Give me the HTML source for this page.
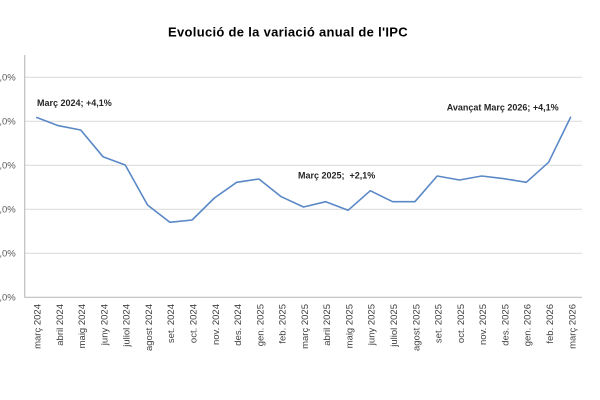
<!DOCTYPE html>
<html>
<head>
<meta charset="utf-8">
<style>
html,body{margin:0;padding:0;background:#fff;}
svg{display:block;}
text{font-family:"Liberation Sans",Arial,sans-serif;}
</style>
</head>
<body>
<svg width="600" height="400" viewBox="0 0 600 400" xmlns="http://www.w3.org/2000/svg">
<rect width="600" height="400" fill="#fff"/>
<text x="288" y="36.7" text-anchor="middle" font-size="13" font-weight="bold" letter-spacing="0.3" fill="#000">Evolució de la variació anual de l'IPC</text>

<!-- gridlines -->
<g stroke="#d9d9d9" stroke-width="1">
<line x1="25" y1="77.3" x2="582" y2="77.3"/>
<line x1="25" y1="121.3" x2="582" y2="121.3"/>
<line x1="25" y1="165.3" x2="582" y2="165.3"/>
<line x1="25" y1="209.3" x2="582" y2="209.3"/>
<line x1="25" y1="253.3" x2="582" y2="253.3"/>
</g>
<!-- axes -->
<line x1="24.7" y1="55" x2="24.7" y2="297.5" stroke="#bfbfbf" stroke-width="1.2"/>
<line x1="24.7" y1="297.3" x2="582" y2="297.3" stroke="#bfbfbf" stroke-width="1.2"/>

<!-- y labels -->
<g font-size="9.5" fill="#595959" text-anchor="end">
<text x="15.7" y="80.6">5,0%</text>
<text x="15.7" y="124.6">4,0%</text>
<text x="15.7" y="168.6">3,0%</text>
<text x="15.7" y="212.6">2,0%</text>
<text x="15.7" y="256.6">1,0%</text>
<text x="15.7" y="300.6">0,0%</text>
</g>

<!-- series -->
<polyline fill="none" stroke="#5a88c6" stroke-width="1.6" stroke-linejoin="round" points="36.14,117.3 58.42,125.7 80.70,130 102.98,156.7 125.26,165 147.54,205 169.82,222.3 192.10,220 214.38,198 236.66,182.3 258.94,179 281.22,196.7 303.50,207 325.78,201.7 348.06,210.3 370.34,190.7 392.62,201.7 414.90,201.7 437.18,176 459.46,180 481.74,176 504.02,178.7 526.30,182.3 548.58,162.3 570.86,116.7"/>

<!-- annotations -->
<g font-size="9" font-weight="bold" fill="#262626">
<text x="37" y="106">Març 2024; +4,1%</text>
<text x="298" y="178.5" xml:space="preserve">Març 2025;  +2,1%</text>
<text x="446.7" y="110.5">Avançat Març 2026; +4,1%</text>
</g>

<!-- x labels -->
<g font-size="9.5" fill="#404040" text-anchor="end">
<text transform="translate(40.5,304) rotate(-90)">març 2024</text>
<text transform="translate(62.8,304) rotate(-90)">abril 2024</text>
<text transform="translate(85.1,304) rotate(-90)">maig 2024</text>
<text transform="translate(107.4,304) rotate(-90)">juny 2024</text>
<text transform="translate(129.7,304) rotate(-90)">juliol 2024</text>
<text transform="translate(151.9,304) rotate(-90)">agost 2024</text>
<text transform="translate(174.2,304) rotate(-90)">set. 2024</text>
<text transform="translate(196.5,304) rotate(-90)">oct. 2024</text>
<text transform="translate(218.8,304) rotate(-90)">nov. 2024</text>
<text transform="translate(241.1,304) rotate(-90)">des. 2024</text>
<text transform="translate(263.3,304) rotate(-90)">gen. 2025</text>
<text transform="translate(285.6,304) rotate(-90)">feb. 2025</text>
<text transform="translate(307.9,304) rotate(-90)">març 2025</text>
<text transform="translate(330.2,304) rotate(-90)">abril 2025</text>
<text transform="translate(352.5,304) rotate(-90)">maig 2025</text>
<text transform="translate(374.7,304) rotate(-90)">juny 2025</text>
<text transform="translate(397.0,304) rotate(-90)">juliol 2025</text>
<text transform="translate(419.3,304) rotate(-90)">agost 2025</text>
<text transform="translate(441.6,304) rotate(-90)">set. 2025</text>
<text transform="translate(463.9,304) rotate(-90)">oct. 2025</text>
<text transform="translate(486.1,304) rotate(-90)">nov. 2025</text>
<text transform="translate(508.4,304) rotate(-90)">des. 2025</text>
<text transform="translate(530.7,304) rotate(-90)">gen. 2026</text>
<text transform="translate(553.0,304) rotate(-90)">feb. 2026</text>
<text transform="translate(575.3,304) rotate(-90)">març 2026</text>
</g>
</svg>
</body>
</html>
